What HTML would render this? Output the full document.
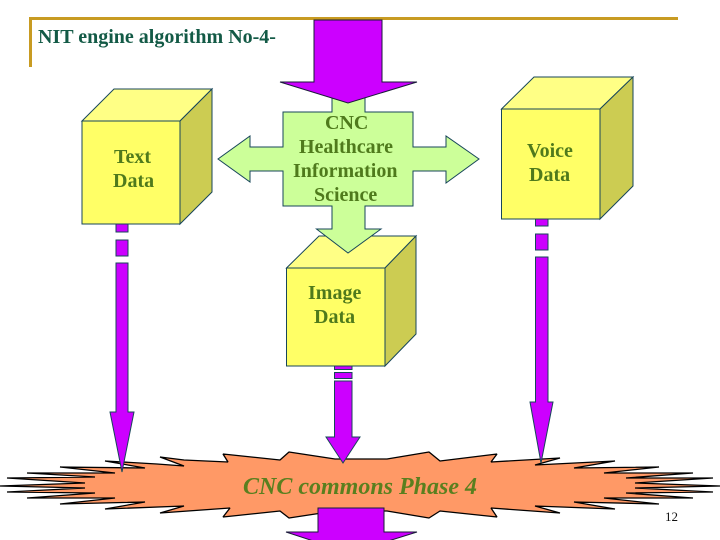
<!DOCTYPE html>
<html>
<head>
<meta charset="utf-8">
<style>
html,body{margin:0;padding:0;background:#fff;width:720px;height:540px;overflow:hidden}
svg{display:block}
text{font-family:"Liberation Serif",serif}
.l{font-size:20px;font-weight:bold;fill:#4f7a1c}
</style>
</head>
<body>
<svg width="720" height="540" viewBox="0 0 720 540" xmlns="http://www.w3.org/2000/svg">
<rect x="29" y="17" width="649" height="3" fill="#c89b22"/>
<rect x="29" y="17" width="3" height="50" fill="#c89b22"/>
<text x="38" y="43" font-size="20" font-weight="bold" fill="#135a46">NIT engine algorithm No-4-</text>

<!-- star -->
<polygon fill="#ff9966" stroke="#000" stroke-width="1.3" stroke-linejoin="bevel" points="0,486 85,483 7,478 95,477 27,473 115,473 60,467 145,468 105,461 157,464 184,466 160,457 184,460 228,462 223,454 280,460 289,452 335,459 387,459 429,452 440,461 497,454 491,462 560,458 535,465 615,461 574,468 659,467 604,473 693,473 626,478 713,478 635,483 720,486 635,488 713,492 626,493 693,498 604,498 659,504 574,502 615,509 535,506 560,513 491,508 497,517 440,511 429,518 387,511 335,511 289,518 280,511 223,517 230,508 160,513 184,506 105,509 145,502 60,504 115,498 27,498 95,493 7,492 85,488"/>

<!-- text cube -->
<g stroke="#17465a" stroke-width="1">
<rect x="116" y="224" width="12" height="8" fill="#cc00ff"/>
<rect x="116" y="240" width="12" height="16" fill="#cc00ff"/>
<polygon fill="#cc00ff" points="116,263 128,263 128,412 134,412 122,472 110,412 116,412"/>
<polygon fill="#ffff85" points="82,121 114,89 212,89 180,121"/>
<polygon fill="#cccc52" points="180,121 212,89 212,192 180,224"/>
<rect x="82" y="121" width="98" height="103" fill="#ffff66"/>
</g>

<!-- voice cube -->
<g stroke="#17465a" stroke-width="1">
<rect x="535.5" y="219" width="12.5" height="7" fill="#cc00ff"/>
<rect x="535.5" y="234" width="12.5" height="16" fill="#cc00ff"/>
<polygon fill="#cc00ff" points="535.5,257 548,257 548,402 553,402 541,463 530,402 535.5,402"/>
<polygon fill="#ffff85" points="501.5,109 534,77 633,77 600,109"/>
<polygon fill="#cccc52" points="600,109 633,77 633,186 600,219"/>
<rect x="501.5" y="109" width="98.5" height="110" fill="#ffff66"/>
</g>

<!-- image cube -->
<g stroke="#17465a" stroke-width="1">
<rect x="334.5" y="366" width="17.5" height="3.5" fill="#cc00ff"/>
<rect x="334.5" y="372.500" width="17.500" height="6" fill="#cc00ff"/>
<polygon fill="#cc00ff" points="334.500,381 352,381 352,437 360,437 343,463 326,437 334.500,437"/>
<polygon fill="#ffff85" points="286.500,268 319,236 416,236 385,268"/>
<polygon fill="#cccc52" points="385,268 416,236 416,334 385,366"/>
<rect x="286.500" y="268" width="98.500" height="98" fill="#ffff66"/>
</g>

<!-- green cross -->
<polygon fill="#ccff99" stroke="#17465a" stroke-width="1" points="332,95 365,95 365,112 413,112 413,147 446,147 446,136 479,159 446,183 446,171 413,171 413,206 365,206 365,229 381,229 348,253 316.500,229 332,229 332,206 283,206 283,171 250,171 250,182 218,159 250,136 250,147 283,147 283,112 332,112"/>

<!-- top arrow -->
<polygon fill="#cc00ff" stroke="#1a1a3a" stroke-width="1" points="314,20 382,20 382,82 417,82 348,103 280,82 314,82"/>

<!-- bottom arrow -->
<polygon fill="#cc00ff" stroke="#1a1a3a" stroke-width="1" points="318,508 384,508 384,532 417,532 350,553 286,532 318,532"/>

<!-- labels -->
<text class="l" x="114" y="163">Text</text>
<text class="l" x="113" y="187">Data</text>
<text class="l" x="527" y="157">Voice</text>
<text class="l" x="529" y="181">Data</text>
<text class="l" x="308" y="299">Image</text>
<text class="l" x="314" y="323">Data</text>
<text class="l" x="325" y="129">CNC</text>
<text class="l" x="299" y="153">Healthcare</text>
<text class="l" x="293" y="177">Information</text>
<text class="l" x="314" y="201">Science</text>

<text x="243" y="494" font-size="24" font-style="italic" font-weight="bold" fill="#5a7f1f">CNC commons Phase 4</text>
<text x="665" y="521" font-size="13" fill="#111">12</text>
</svg>
</body>
</html>
